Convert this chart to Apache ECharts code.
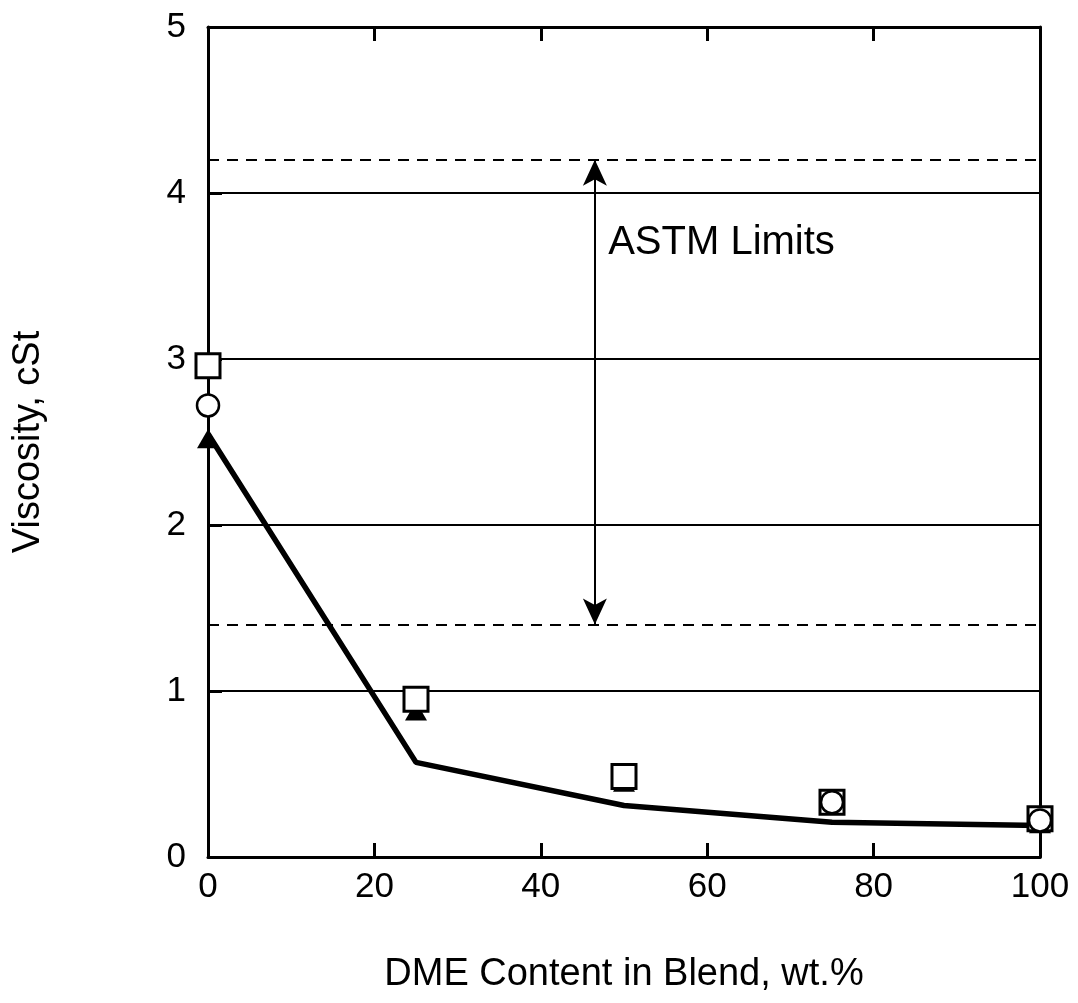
<!DOCTYPE html>
<html>
<head>
<meta charset="utf-8">
<script src="https://cdn.jsdelivr.net/npm/echarts@6/dist/echarts.min.js"></script>
<style>html,body{margin:0;padding:0;background:#fff}#c{width:1078px;height:1003px}</style>
</head>
<body>
<div id="c"></div>
<script>
const squareData = [[0, 2.96], [25, 0.95], [50, 0.485], [75, 0.33], [100, 0.23]];
const circleData = [[0, 2.72], [75, 0.33], [100, 0.22]];
const triangleData = [[0, 2.52], [25, 0.88], [50, 0.45], [75, 0.31], [100, 0.2]];
const lineData = [[0, 2.55], [25, 0.57], [50, 0.31], [75, 0.21], [100, 0.19]];
const astmLimits = [1.4, 4.2];
const arrowX = 46.5;
const astmLabel = 'ASTM Limits';
const xName = 'DME Content in Blend, wt.%';
const yName = 'Viscosity, cSt';

const font = 'Liberation Sans, Arial, sans-serif';
const chart = echarts.init(document.getElementById('c'));
chart.setOption({
  animation: false,
  backgroundColor: '#fff',
  grid: { left: 208, right: 38, top: 27, bottom: 146 },
  xAxis: [{
    type: 'value', min: 0, max: 100, interval: 20, position: 'bottom',
    name: xName, nameLocation: 'middle', nameGap: 99,
    nameTextStyle: { color: '#000', fontSize: 38, fontFamily: font },
    axisLine: { onZero: false, lineStyle: { color: '#000', width: 3 } },
    axisTick: { inside: true, length: 14, lineStyle: { color: '#000', width: 3 } },
    axisLabel: { color: '#000', fontSize: 35, fontFamily: font, margin: 13 },
    splitLine: { show: false }
  }, {
    type: 'value', min: 0, max: 100, interval: 20, position: 'top',
    axisLine: { onZero: false, lineStyle: { color: '#000', width: 3 } },
    axisTick: { inside: true, length: 14, lineStyle: { color: '#000', width: 3 } },
    axisLabel: { show: false }, splitLine: { show: false }
  }],
  yAxis: [{
    type: 'value', min: 0, max: 5, interval: 1, position: 'left',
    name: yName, nameLocation: 'middle', nameGap: 160,
    nameTextStyle: { color: '#000', fontSize: 38, fontFamily: font },
    axisLine: { show: true, onZero: false, lineStyle: { color: '#000', width: 3 } },
    axisTick: { inside: true, length: 14, lineStyle: { color: '#000', width: 3 } },
    axisLabel: { color: '#000', fontSize: 35, fontFamily: font, margin: 22 },
    splitLine: { show: true, lineStyle: { color: '#000', width: 2 } }
  }, {
    type: 'value', min: 0, max: 5, interval: 1, position: 'right',
    axisLine: { show: true, onZero: false, lineStyle: { color: '#000', width: 3 } },
    axisTick: { show: false }, axisLabel: { show: false }, splitLine: { show: false }
  }],
  series: [
    {
      type: 'line', data: lineData, symbol: 'none',
      lineStyle: { color: '#000', width: 5.5 }, z: 2,
      markLine: {
        silent: true, symbol: 'none',
        label: { show: false },
        lineStyle: { color: '#000', width: 2, type: [11, 8] },
        data: astmLimits.map(v => ({ yAxis: v }))
      }
    },
    {
      type: 'line', data: [], symbol: 'none', z: 3,
      markLine: {
        silent: true, symbol: ['arrow', 'arrow'], symbolSize: [18, 26],
        label: { show: false },
        lineStyle: { color: '#000', width: 2, type: 'solid' },
        data: [[{ coord: [arrowX, astmLimits[0]] }, { coord: [arrowX, astmLimits[1]] }]]
      },
      markPoint: {
        silent: true, symbol: 'circle', symbolSize: 0,
        label: { show: true, position: 'right', distance: 0, color: '#000', fontSize: 40, fontFamily: font, formatter: astmLabel },
        data: [{ coord: [48.1, 3.7] }]
      }
    },
    {
      type: 'scatter', data: triangleData, symbol: 'triangle', symbolSize: [22, 19],
      itemStyle: { color: '#000', opacity: 1 }, z: 4
    },
    {
      type: 'scatter', data: squareData, symbol: 'rect', symbolSize: 24,
      itemStyle: { color: '#fff', borderColor: '#000', borderWidth: 3, opacity: 1 }, z: 5
    },
    {
      type: 'scatter', data: circleData, symbol: 'circle', symbolSize: 22,
      itemStyle: { color: '#fff', borderColor: '#000', borderWidth: 2.5, opacity: 1 }, z: 6
    }
  ]
});
</script>
</body>
</html>
